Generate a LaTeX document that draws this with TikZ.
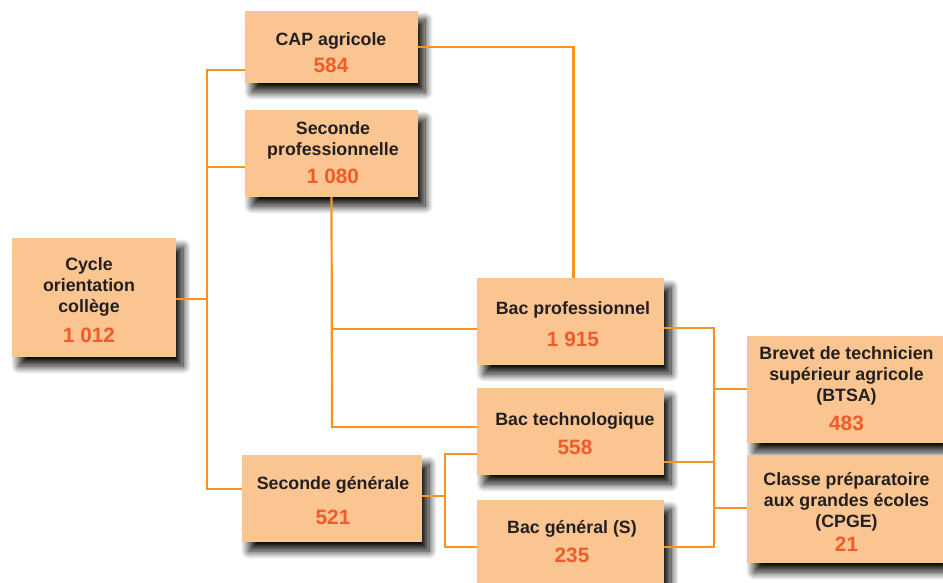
\documentclass[tikz,border=0pt]{standalone}
\usepackage{fontspec}
\setmainfont{Liberation Sans}
\usetikzlibrary{shadows.blur}
\definecolor{boxfill}{HTML}{FBC591}
\definecolor{lineor}{HTML}{F7941D}
\definecolor{numred}{HTML}{F15A29}
\definecolor{txtdark}{HTML}{231F20}
\newcommand\numf{\fontsize{20.8}{21}\selectfont\color{numred}}
\begin{document}
\begin{tikzpicture}[x=1pt,y=-1pt,
 box/.style={rectangle, fill=boxfill, inner sep=0pt,
   blur shadow={shadow xshift=7pt, shadow yshift=-9pt, shadow blur radius=8pt, shadow blur steps=16, shadow opacity=95}},
 txt/.style={align=center, inner sep=0pt, text=txtdark, font=\fontsize{17.8}{21}\selectfont\bfseries},
 conn/.style={draw=lineor, line width=2.2pt}]
\useasboundingbox (0,0) rectangle (943,583);

% boxes
\node[box, minimum width=173pt, minimum height=72pt]  (cap)   at (331.5,47)    {};
\node[box, minimum width=173pt, minimum height=87pt]  (sp)    at (331.5,153.5) {};
\node[box, minimum width=164pt, minimum height=119pt] (cycle) at (94,297.5)    {};
\node[box, minimum width=180pt, minimum height=87pt]  (sg)    at (332,498.5)   {};
\node[box, minimum width=187pt, minimum height=87pt]  (bp)    at (570.5,321.5) {};
\node[box, minimum width=187pt, minimum height=87pt]  (bt)    at (570.5,431.5) {};
\node[box, minimum width=187pt, minimum height=84pt]  (bg)    at (570.5,542)   {};
\node[box, minimum width=196pt, minimum height=107pt] (btsa)  at (845,389.5)   {};
\node[box, minimum width=196pt, minimum height=108pt] (cpge)  at (845,509)     {};

% texts
\node[txt] (cap-t)   at (331,52.7)  {CAP agricole\\[6pt]{\numf 584}};
\node[txt] (sp-t)    at (333,153)   {Seconde\\professionnelle\\[7pt]{\numf 1 080}};
\node[txt] (cycle-t) at (89,300)    {Cycle\\orientation\\collège\\[9.6pt]{\numf 1 012}};
\node[txt] (sg-t)    at (333,501)   {Seconde générale\\[14pt]{\numf 521}};
\node[txt] (bp-t)    at (573,324.5) {Bac professionnel\\[11pt]{\numf 1 915}};
\node[txt] (bt-t)    at (575,434)   {Bac technologique\\[8pt]{\numf 558}};
\node[txt] (bg-t)    at (572,542)   {Bac général (S)\\[8pt]{\numf 235}};
\node[txt] (btsa-t)  at (846.5,389) {Brevet de technicien\\supérieur agricole\\(BTSA)\\[8pt]{\numf 483}};
\node[txt] (cpge-t)  at (846.5,511.5) {Classe préparatoire\\aux grandes écoles\\(CPGE)\\[3pt]{\numf 21}};

% junction coordinates
\coordinate (jA)   at (207,70);
\coordinate (jSP)  at (207,167);
\coordinate (jC)   at (207,299);
\coordinate (jB)   at (207,489);
\coordinate (jCAP) at (573.5,47);
\coordinate (jBP)  at (332,329);
\coordinate (jSPb) at (332,427);
\coordinate (jSG)  at (445,496);
\coordinate (jT)   at (445,454);
\coordinate (jG)   at (445,547);
\coordinate (k1)   at (714,328);
\coordinate (k2)   at (714,462);
\coordinate (k3)   at (714,389);
\coordinate (k4)   at (714,547);
\coordinate (k5)   at (714,508);

% connectors
\draw[conn] ([yshift=1.1pt]jA) -- ([yshift=-1.1pt]jB);
\draw[conn] (cap.west |- jA) -- (jA);
\draw[conn] (sp.west |- jSP) -- (jSP);
\draw[conn] (cycle.east |- jC) -- (jC);
\draw[conn] (sg.west |- jB) -- (jB);
\draw[conn] (cap.east) -- (jCAP) -- (jCAP |- bp.north);
\draw[conn] (sp.south) -- ([yshift=-1.1pt]jSPb);
\draw[conn] (jBP) -- (jBP -| bp.west);
\draw[conn] (jSPb) -- (jSPb -| bt.west);
\draw[conn] (sg.east |- jSG) -- (jSG);
\draw[conn] ([yshift=1.1pt]jT) -- ([yshift=-1.1pt]jG);
\draw[conn] (jT) -- (jT -| bt.west);
\draw[conn] (jG) -- (jG -| bg.west);
\draw[conn, line join=miter] (k1 -| bp.east) -- (k1) -- (k4) -- (k4 -| bg.east);
\draw[conn] (k2 -| bt.east) -- (k2);
\draw[conn] (k3) -- (k3 -| btsa.west);
\draw[conn] (k5) -- (k5 -| cpge.west);
\end{tikzpicture}
\end{document}
